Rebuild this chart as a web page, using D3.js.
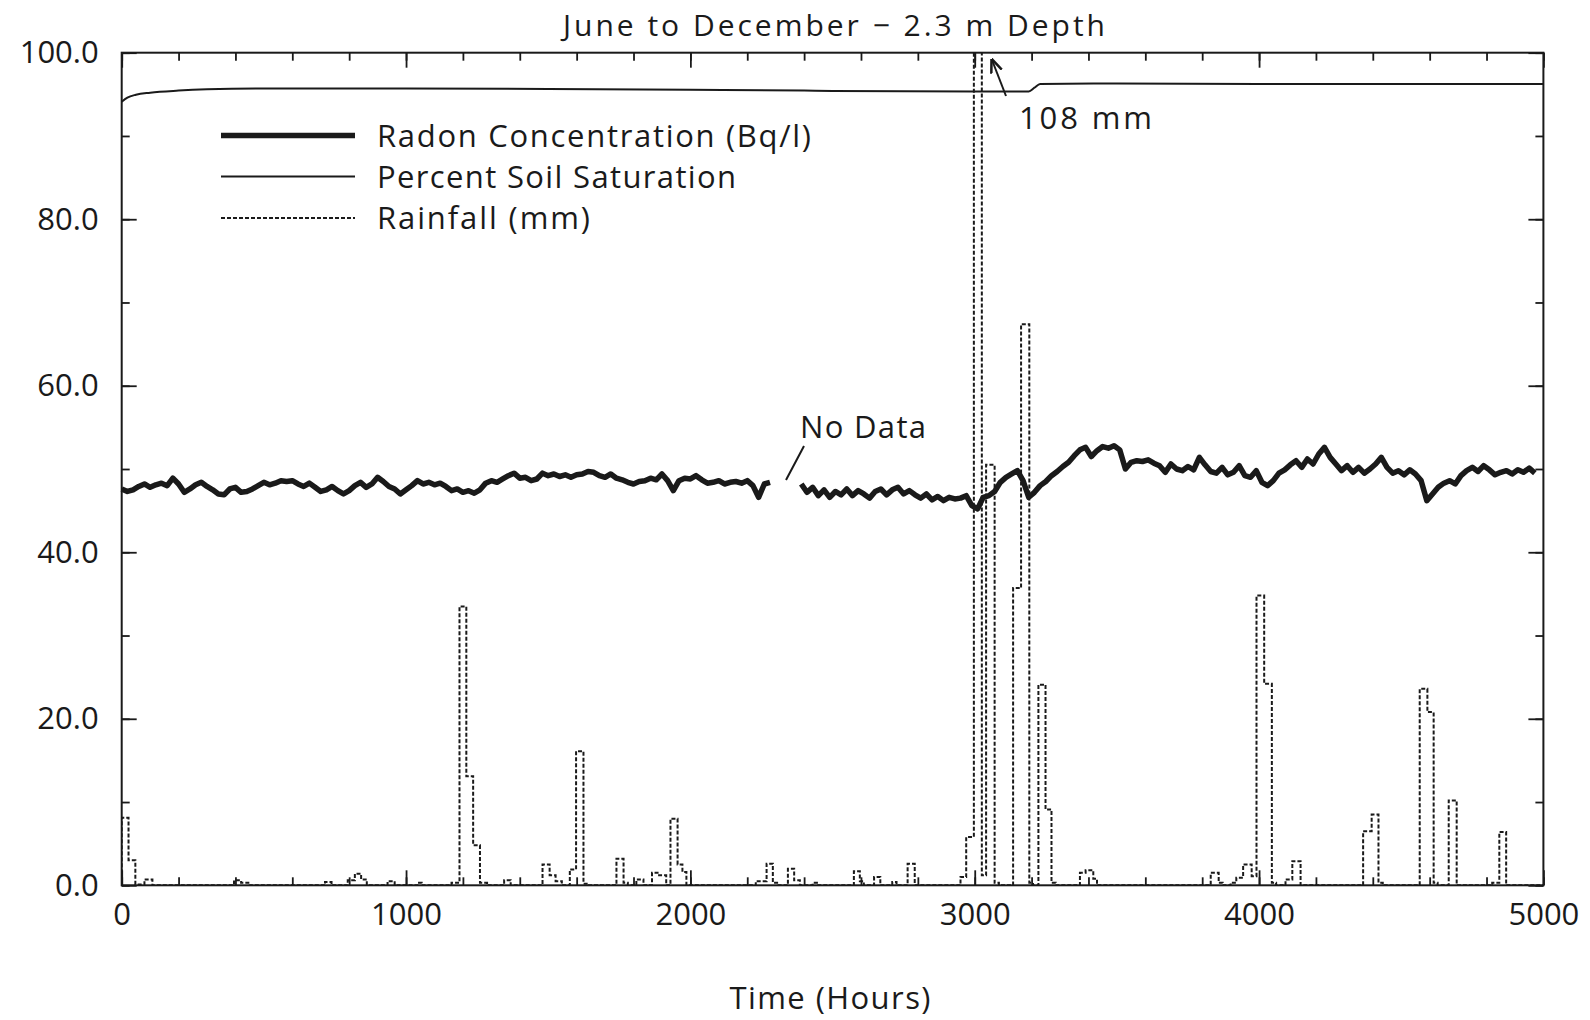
<!DOCTYPE html>
<html>
<head>
<meta charset="UTF-8">
<title>June to December - 2.3 m Depth</title>
<script src="https://cdn.jsdelivr.net/npm/d3@7"></script>
<style>
body { margin: 0; background: #fff; }
text { font-family: "Open Sans", "DejaVu Sans", sans-serif; fill: #1a1a1a; }
</style>
</head>
<body>
<div id="chart"></div>
<script>
// radon concentration (Bq/l), one reading every 20 hours, two runs with a gap
var radonStepHours = 20;
var radonStartA = 0;
var radonA = [
  47.6,47.3,47.5,47.9,48.2,47.8,48.1,48.3,48.0,48.9,48.2,47.2,47.6,48.1,48.4,47.9,47.5,47.0,46.9,47.6,
  47.8,47.2,47.3,47.6,48.0,48.4,48.1,48.3,48.6,48.5,48.6,48.2,47.9,48.3,47.8,47.3,47.5,47.9,47.4,47.0,
  47.4,48.0,48.4,47.8,48.2,49.0,48.5,47.9,47.6,47.0,47.5,48.0,48.6,48.2,48.4,48.1,48.3,47.9,47.4,47.6,
  47.2,47.4,47.1,47.5,48.3,48.6,48.4,48.8,49.2,49.5,48.9,49.0,48.6,48.8,49.5,49.2,49.4,49.1,49.3,49.0,
  49.3,49.4,49.7,49.6,49.2,49.0,49.4,48.9,48.7,48.4,48.2,48.5,48.6,48.9,48.7,49.4,48.6,47.4,48.6,48.9,
  48.8,49.2,48.7,48.3,48.4,48.6,48.2,48.4,48.5,48.3,48.6,48.0,46.6,48.2,48.4
];
var radonStartB = 2390;
var radonB = [
  48.2,47.2,47.8,46.8,47.5,46.6,47.3,46.9,47.6,46.8,47.4,47.0,46.5,47.3,47.6,46.9,47.5,47.8,47.0,47.4,
  46.9,46.5,47.0,46.3,46.7,46.2,46.6,46.4,46.5,46.8,45.6,45.2,46.6,46.8,47.3,48.4,49.0,49.4,49.8,48.6,
  46.6,47.2,48.0,48.5,49.2,49.7,50.3,50.8,51.6,52.3,52.6,51.5,52.2,52.7,52.5,52.8,52.3,50.0,50.8,51.0,
  50.9,51.1,50.7,50.4,49.6,50.6,50.0,49.8,50.3,49.9,51.4,50.5,49.7,49.5,50.2,49.3,49.6,50.4,49.2,49.0,
  49.8,48.4,48.0,48.6,49.5,49.9,50.5,51.0,50.2,51.2,50.6,51.8,52.6,51.4,50.6,49.8,50.4,49.6,50.2,49.5,
  50.0,50.6,51.4,50.2,49.5,49.8,49.3,49.9,49.4,48.6,46.2,47.0,47.8,48.3,48.6,48.2,49.2,49.8,50.2,49.7,
  50.4,49.9,49.3,49.6,49.8,49.4,49.9,49.6,50.1,49.5
];

// percent soil saturation
var satHours  = [0, 20, 50, 100, 200, 300, 500, 1000, 1500, 2000, 2400, 2500, 3000, 3190, 3210, 3230, 3500, 4000, 5000];
var satValues = [94.1, 94.6, 94.95, 95.2, 95.45, 95.6, 95.7, 95.7, 95.65, 95.55, 95.45, 95.4, 95.35, 95.35, 95.8, 96.25, 96.3, 96.25, 96.25];

// rainfall (mm): start hour, end hour, amount
var rainStart = [0, 24, 48, 80, 395, 420, 715, 795, 820, 842, 935, 1040, 1160, 1188, 1212, 1236, 1260, 1345, 1480, 1505,
  1526, 1576, 1598, 1624, 1740, 1765, 1810, 1865, 1890, 1930, 1955, 1972, 2230, 2268, 2290, 2343, 2365, 2430, 2575, 2596,
  2646, 2710, 2764, 2950, 2970, 2997, 3025, 3040, 3070, 3135, 3163, 3192, 3224, 3249, 3270, 3370, 3390, 3417, 3830, 3858,
  3900, 3920, 3944, 3974, 3991, 4018, 4045, 4093, 4117, 4366, 4396, 4420, 4565, 4592, 4614, 4667, 4820, 4845];
var rainEnd = [24, 48, 80, 108, 420, 450, 738, 820, 842, 862, 960, 1055, 1188, 1212, 1236, 1260, 1285, 1368, 1505, 1526,
  1548, 1598, 1624, 1640, 1765, 1780, 1835, 1890, 1915, 1955, 1972, 1986, 2268, 2290, 2305, 2365, 2385, 2445, 2596, 2610,
  2668, 2725, 2789, 2970, 2997, 3025, 3040, 3070, 3085, 3163, 3192, 3205, 3249, 3270, 3285, 3390, 3417, 3430, 3858, 3872,
  3920, 3944, 3974, 3991, 4018, 4045, 4060, 4117, 4146, 4396, 4420, 4435, 4592, 4614, 4628, 4695, 4845, 4869];
var rainMm = [8.1, 3.0, 0.1, 0.7, 0.6, 0.3, 0.4, 0.6, 1.4, 0.7, 0.5, 0.3, 0.3, 33.5, 13.1, 4.8, 0.3, 0.6, 2.5, 1.2,
  0.5, 1.9, 16.1, 0.2, 3.2, 0.3, 0.7, 1.5, 1.2, 8.0, 2.5, 1.6, 0.5, 2.6, 0.3, 2.0, 0.6, 0.3, 1.7, 0.5,
  1.0, 0.4, 2.6, 1.0, 5.8, 108, 1.2, 50.5, 0.3, 35.7, 67.4, 0.3, 24.1, 9.1, 0.3, 1.5, 1.8, 0.8, 1.5, 0.3,
  0.3, 0.9, 2.5, 1.1, 34.8, 24.2, 0.3, 0.7, 2.9, 6.5, 8.5, 0.3, 23.6, 20.8, 0.3, 10.2, 0.3, 6.4];

var xTicksMajor = [0, 1000, 2000, 3000, 4000, 5000];
var yTicksMajor = [0, 20, 40, 60, 80, 100];
var legendLabels = ["Radon Concentration (Bq/l)", "Percent Soil Saturation", "Rainfall (mm)"];

var width = 1590, height = 1020;
var plot = { left: 121.7, right: 1543.4, top: 52.7, bottom: 885.3 };
var fontSize = 31;

var svg = d3.select("#chart").append("svg")
  .attr("width", width).attr("height", height);

var x = d3.scaleLinear().domain([0, 5000]).range([plot.left, plot.right]);
var y = d3.scaleLinear().domain([0, 100]).range([plot.bottom, plot.top]);

svg.append("defs").append("clipPath").attr("id", "plotclip")
  .append("rect")
  .attr("x", plot.left).attr("y", plot.top)
  .attr("width", plot.right - plot.left).attr("height", plot.bottom - plot.top);

// axes: minor ticks first, then major ones with labels, all ticks pointing in
function styleAxis(g) {
  g.select(".domain").remove();
  g.selectAll(".tick line").attr("stroke", "#1a1a1a").attr("stroke-width", 1.8);
  g.selectAll(".tick text").attr("font-size", fontSize).attr("fill", "#1a1a1a")
    .attr("font-family", "'Open Sans', 'DejaVu Sans', sans-serif");
}
var xMinor = d3.range(0, 5001, 200);
var yMinor = d3.range(0, 101, 10);

svg.append("g").attr("transform", "translate(0," + plot.bottom + ")")
  .call(d3.axisBottom(x).tickValues(xMinor).tickSize(-8).tickFormat(""))
  .call(styleAxis);
svg.append("g").attr("transform", "translate(0," + plot.bottom + ")")
  .call(d3.axisBottom(x).tickValues(xTicksMajor).tickSize(-15).tickPadding(18).tickFormat(d3.format("d")))
  .call(styleAxis);
svg.append("g").attr("transform", "translate(0," + plot.top + ")")
  .call(d3.axisTop(x).tickValues(xMinor).tickSize(-8).tickFormat(""))
  .call(styleAxis);
svg.append("g").attr("transform", "translate(0," + plot.top + ")")
  .call(d3.axisTop(x).tickValues(xTicksMajor).tickSize(-15).tickFormat(""))
  .call(styleAxis);
svg.append("g").attr("transform", "translate(" + plot.left + ",0)")
  .call(d3.axisLeft(y).tickValues(yMinor).tickSize(-8).tickFormat(""))
  .call(styleAxis);
svg.append("g").attr("transform", "translate(" + plot.left + ",0)")
  .call(d3.axisLeft(y).tickValues(yTicksMajor).tickSize(-15).tickPadding(23).tickFormat(d3.format(".1f")))
  .call(styleAxis);
svg.append("g").attr("transform", "translate(" + plot.right + ",0)")
  .call(d3.axisRight(y).tickValues(yMinor).tickSize(-8).tickFormat(""))
  .call(styleAxis);
svg.append("g").attr("transform", "translate(" + plot.right + ",0)")
  .call(d3.axisRight(y).tickValues(yTicksMajor).tickSize(-15).tickFormat(""))
  .call(styleAxis);

svg.append("rect")
  .attr("x", plot.left).attr("y", plot.top)
  .attr("width", plot.right - plot.left).attr("height", plot.bottom - plot.top)
  .attr("fill", "none").attr("stroke", "#1a1a1a").attr("stroke-width", 2);

var line = d3.line().x(function(d) { return x(d[0]); }).y(function(d) { return y(d[1]); });

// rainfall as a stepped outline
var rainPts = [[0, 0]];
var lastEnd = 0;
rainStart.forEach(function(s, i) {
  if (s > lastEnd) { rainPts.push([lastEnd, 0]); rainPts.push([s, 0]); }
  rainPts.push([s, rainMm[i]]);
  rainPts.push([rainEnd[i], rainMm[i]]);
  lastEnd = rainEnd[i];
});
rainPts.push([lastEnd, 0]);
rainPts.push([5000, 0]);

svg.append("path")
  .datum(rainPts)
  .attr("clip-path", "url(#plotclip)")
  .attr("d", line)
  .attr("fill", "none")
  .attr("stroke", "#1a1a1a")
  .attr("stroke-width", 2)
  .attr("stroke-dasharray", "4,2");

// soil saturation
svg.append("path")
  .datum(satHours.map(function(h, i) { return [h, satValues[i]]; }))
  .attr("d", line.curve(d3.curveMonotoneX))
  .attr("fill", "none")
  .attr("stroke", "#1a1a1a")
  .attr("stroke-width", 2);
line.curve(d3.curveLinear);

// radon
[[radonStartA, radonA], [radonStartB, radonB]].forEach(function(run) {
  svg.append("path")
    .datum(run[1].map(function(v, i) { return [run[0] + i * radonStepHours, v]; }))
    .attr("d", line)
    .attr("fill", "none")
    .attr("stroke", "#1a1a1a")
    .attr("stroke-width", 5.5)
    .attr("stroke-linejoin", "round");
});

// legend
var legendY = [135.5, 176.5, 218];
var legendW = [434, 359, 213];
legendLabels.forEach(function(t, i) {
  var ln = svg.append("line")
    .attr("x1", 221).attr("x2", 355)
    .attr("y1", legendY[i]).attr("y2", legendY[i])
    .attr("stroke", "#1a1a1a");
  if (i == 0) ln.attr("stroke-width", 5.5);
  if (i == 1) ln.attr("stroke-width", 2);
  if (i == 2) ln.attr("stroke-width", 2).attr("stroke-dasharray", "4,2");
  svg.append("text")
    .attr("x", 377).attr("y", legendY[i] + 11)
    .attr("font-size", fontSize)
    .attr("textLength", legendW[i]).attr("lengthAdjust", "spacing")
    .text(t);
});

// title and axis title
svg.append("text")
  .attr("x", 834).attr("y", 36)
  .attr("text-anchor", "middle")
  .attr("font-size", 30)
  .attr("textLength", 542).attr("lengthAdjust", "spacing")
  .text("June to December \u2212 2.3 m Depth");

svg.append("text")
  .attr("x", 830).attr("y", 1009)
  .attr("text-anchor", "middle")
  .attr("font-size", fontSize)
  .attr("textLength", 201).attr("lengthAdjust", "spacing")
  .text("Time (Hours)");

// annotations
svg.append("text")
  .attr("x", 800).attr("y", 438)
  .attr("font-size", fontSize)
  .attr("textLength", 126).attr("lengthAdjust", "spacing")
  .text("No Data");
svg.append("line")
  .attr("x1", 804).attr("y1", 446).attr("x2", 786).attr("y2", 480)
  .attr("stroke", "#1a1a1a").attr("stroke-width", 2);

svg.append("text")
  .attr("x", 1019).attr("y", 129)
  .attr("font-size", fontSize)
  .attr("textLength", 133).attr("lengthAdjust", "spacing")
  .text("108 mm");

svg.append("defs").append("marker")
  .attr("id", "arrow").attr("viewBox", "0 0 10 10")
  .attr("refX", 9).attr("refY", 5)
  .attr("markerWidth", 7).attr("markerHeight", 7)
  .attr("orient", "auto")
  .append("path").attr("d", "M0,1 L10,5 L0,9").attr("fill", "none")
  .attr("stroke", "#1a1a1a").attr("stroke-width", 1.8);
svg.append("line")
  .attr("x1", 1006).attr("y1", 96).attr("x2", 992).attr("y2", 60)
  .attr("stroke", "#1a1a1a").attr("stroke-width", 2)
  .attr("marker-end", "url(#arrow)");
</script>
</body>
</html>
